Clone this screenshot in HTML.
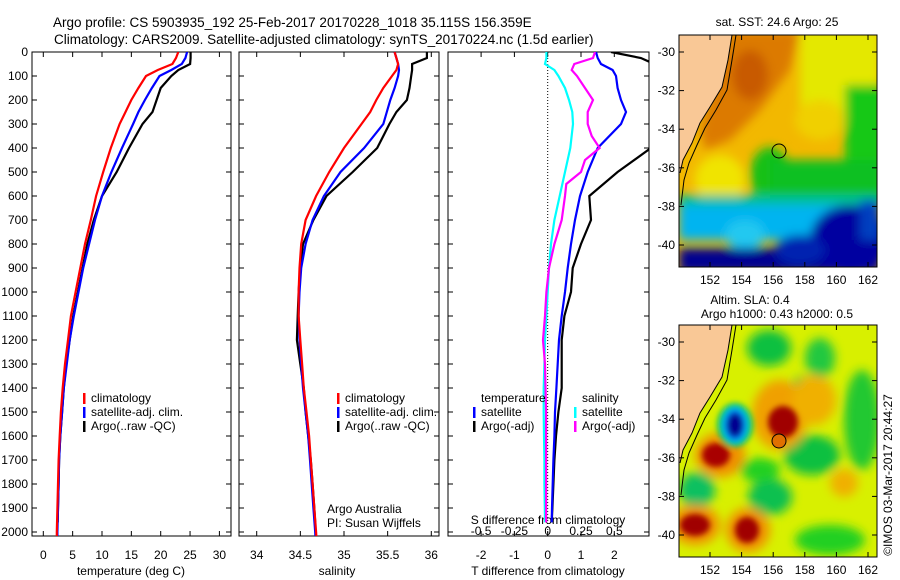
<!DOCTYPE html>
<html><head><meta charset="utf-8"><style>
html,body{margin:0;padding:0;background:#fff;}
svg{display:block;font-family:"Liberation Sans",sans-serif;}
</style></head><body>
<svg id="fig" width="900" height="580" viewBox="0 0 900 580">
<defs>
<clipPath id="c1"><rect x="32" y="52" width="199" height="484"/></clipPath>
<clipPath id="c2"><rect x="239" y="52" width="200" height="484"/></clipPath>
<clipPath id="c3"><rect x="448" y="52" width="201" height="484"/></clipPath>
<clipPath id="m1"><rect x="679" y="35" width="198" height="232"/></clipPath>
<clipPath id="m2"><rect x="679" y="325" width="198" height="232"/></clipPath>
<filter id="bl" x="-30%" y="-30%" width="160%" height="160%"><feGaussianBlur stdDeviation="5"/></filter>
<filter id="bl2" x="-30%" y="-30%" width="160%" height="160%"><feGaussianBlur stdDeviation="3"/></filter>
</defs>
<text x="53" y="27" font-size="13.5">Argo profile: CS 5903935_192 25-Feb-2017 20170228_1018 35.115S 156.359E</text>
<text x="54" y="44" font-size="13.5">Climatology: CARS2009. Satellite-adjusted climatology: synTS_20170224.nc (1.5d earlier)</text>

<g>
<text x="777" y="26" font-size="12" text-anchor="middle">sat. SST: 24.6 Argo: 25</text>
<g clip-path="url(#m1)">
<rect x="679" y="35" width="198" height="232" fill="#f2b800"/>
<g filter="url(#bl)">
<polygon points="730,30 800,30 790,70 760,110 730,140 705,150 700,130" fill="#dc7a00"/>
<ellipse cx="750" cy="75" rx="18" ry="25" fill="#c85a00"/>
<rect x="800" y="30" width="80" height="90" fill="#e4e800"/>
<ellipse cx="820" cy="120" rx="25" ry="20" fill="#f0d000"/>
<rect x="845" y="85" width="40" height="120" fill="#18c818"/>
<ellipse cx="770" cy="175" rx="20" ry="28" fill="#18c018"/>
<rect x="770" y="160" width="110" height="40" fill="#10c020"/>
<ellipse cx="720" cy="180" rx="25" ry="25" fill="#f0e400"/>
<rect x="679" y="195" width="200" height="15" fill="#00c09a"/>
<rect x="679" y="205" width="200" height="35" fill="#00b4f0"/>
<ellipse cx="745" cy="235" rx="20" ry="15" fill="#20c8f0"/>
<rect x="679" y="248" width="200" height="25" fill="#000090"/>
<ellipse cx="850" cy="240" rx="40" ry="35" fill="#0000a0"/>
<ellipse cx="800" cy="250" rx="25" ry="15" fill="#0020b0"/>
<rect x="860" y="200" width="20" height="40" fill="#0040c0"/>
</g>
<polygon points="679,35 732,35 728,60 722,87 710,107 700,123 692,143 683,160 680,173 679,175" fill="#f9c896"/>
<polyline points="736,35 732,60 727,90 716,110 705,128 697,145 689,163 684,180 681,205" fill="none" stroke="#000" stroke-width="1"/>
<polyline points="732,35 728,60 722,87 710,107 700,123 692,143 683,160 680,173" fill="none" stroke="#000" stroke-width="1"/>
<circle cx="779" cy="151" r="7" fill="none" stroke="#000" stroke-width="1"/>
</g>
<rect x="679" y="35" width="198" height="232" fill="none" stroke="#000" stroke-width="1"/>
</g>

<g>
<text x="750" y="304" font-size="12" text-anchor="middle">Altim. SLA: 0.4</text>
<text x="777" y="318" font-size="12" text-anchor="middle">Argo h1000: 0.43 h2000: 0.5</text>
<g clip-path="url(#m2)">
<rect x="679" y="325" width="198" height="232" fill="#d8f000"/>
<g filter="url(#bl)">
<ellipse cx="769" cy="348" rx="22" ry="18" fill="#10c040"/>
<ellipse cx="820" cy="358" rx="15" ry="20" fill="#20c840"/>
<ellipse cx="862" cy="420" rx="18" ry="50" fill="#20c830"/>
<ellipse cx="802" cy="388" rx="10" ry="12" fill="#10c040"/>
<ellipse cx="812" cy="455" rx="28" ry="20" fill="#10c040"/>
<ellipse cx="770" cy="497" rx="22" ry="18" fill="#10c050"/>
<ellipse cx="697" cy="490" rx="18" ry="18" fill="#10c060"/>
<ellipse cx="760" cy="470" rx="20" ry="12" fill="#20d020"/>
<ellipse cx="830" cy="540" rx="35" ry="15" fill="#20d020"/>
<ellipse cx="780" cy="415" rx="28" ry="35" fill="#f0a000"/>
<ellipse cx="814" cy="400" rx="22" ry="25" fill="#f0b000"/>
<ellipse cx="844" cy="483" rx="14" ry="14" fill="#f0b000"/>
<ellipse cx="720" cy="455" rx="25" ry="22" fill="#f09000"/>
<ellipse cx="695" cy="525" rx="25" ry="20" fill="#f09000"/>
<ellipse cx="748" cy="530" rx="22" ry="22" fill="#f09000"/>
</g>
<g filter="url(#bl2)">
<ellipse cx="783" cy="422" rx="15" ry="16" fill="#a00000"/>
<ellipse cx="716" cy="455" rx="14" ry="12" fill="#a80000"/>
<ellipse cx="695" cy="525" rx="15" ry="11" fill="#a00000"/>
<ellipse cx="747" cy="530" rx="12" ry="13" fill="#a00000"/>
<ellipse cx="735" cy="425" rx="18" ry="22" fill="#10c050"/>
<ellipse cx="735" cy="425" rx="14" ry="19" fill="#00d0e0"/>
<ellipse cx="735" cy="425" rx="11" ry="16" fill="#0070f0"/>
<ellipse cx="735" cy="425" rx="8" ry="12" fill="#000090"/>
</g>
<polygon points="679,325 732,325 728,350 722,377 710,397 700,413 692,433 683,450 680,463 679,465" fill="#f9c896"/>
<polyline points="736,325 732,350 727,380 716,400 705,418 697,435 689,453 684,470 681,495" fill="none" stroke="#000" stroke-width="1"/>
<polyline points="732,325 728,350 722,377 710,397 700,413 692,433 683,450 680,463" fill="none" stroke="#000" stroke-width="1"/>
<circle cx="779" cy="441" r="7" fill="#e07000" stroke="#000" stroke-width="1"/>
</g>
<rect x="679" y="325" width="198" height="232" fill="none" stroke="#000" stroke-width="1"/>
</g>
<text transform="translate(892,475) rotate(-90)" font-size="12" text-anchor="middle">©IMOS 03-Mar-2017 20:44:27</text>

<g id="plots"></g>
</svg>
<script>
// ---- data ----
const depths = [0,25,50,75,100,150,200,250,300,400,500,600,700,800,900,1000,1100,1200,1300,1400,1500,1600,1700,1800,1900,2000,2030];
const tempClim = [23.0,22.6,22.0,19.5,17.5,16.2,15.0,14.0,13.0,11.5,10.2,9.0,8.1,7.1,6.3,5.5,4.7,4.2,3.7,3.3,3.0,2.8,2.6,2.5,2.4,2.3,2.3];
const tempSat = [24.5,24.2,23.6,21.8,19.8,18.5,17.3,16.2,15.3,13.4,11.6,10.0,8.8,7.8,6.8,6.0,5.2,4.5,4.0,3.5,3.2,2.9,2.7,2.6,2.5,2.4,2.4];
const argoDepths = [0,25,50,75,100,150,200,250,300,400,500,600,700,800,900,1000,1100,1200,1300,1400,1500,1600,1700,1800,1900,1960];
const tempArgo = [25.1,25.1,25.0,23.0,21.8,20.0,19.3,18.6,16.9,14.6,12.5,10.0,8.6,7.5,6.7,5.9,5.1,4.5,3.9,3.5,3.2,2.9,2.7,2.6,2.5,2.45];
const salClim = [35.58,35.6,35.62,35.6,35.55,35.45,35.37,35.3,35.2,35.0,34.83,34.68,34.56,34.51,34.49,34.48,34.48,34.5,34.52,34.54,34.57,34.6,34.62,34.64,34.66,34.68,34.685];
const salSat = [35.58,35.6,35.62,35.63,35.62,35.58,35.53,35.49,35.45,35.23,34.96,34.77,34.64,34.56,34.51,34.49,34.48,34.49,34.51,34.53,34.56,34.59,34.61,34.63,34.65,34.67,34.675];
const salArgo = [35.95,35.95,35.78,35.78,35.77,35.75,35.72,35.6,35.52,35.38,35.1,34.8,34.65,34.53,34.5,34.48,34.47,34.46,34.5,34.54,34.56,34.59,34.62,34.64,34.66,34.67];
const dTsat = [1.45,1.5,1.6,1.95,2.05,2.1,2.2,2.35,2.2,1.5,1.2,0.97,0.82,0.7,0.6,0.52,0.42,0.34,0.3,0.26,0.22,0.2,0.17,0.15,0.13,0.12];
const dTargo = [1.9,2.8,3.2,3.5,3.6,3.8,3.8,3.7,3.6,3.1,2.1,1.25,1.3,1.0,0.75,0.7,0.5,0.42,0.42,0.42,0.32,0.25,0.2,0.17,0.14,0.12];
const dSsat = [-0.01,-0.01,-0.02,0.05,0.08,0.13,0.16,0.185,0.19,0.17,0.13,0.09,0.05,0.025,0.01,0,-0.01,-0.02,-0.025,-0.03,-0.03,-0.028,-0.025,-0.025,-0.022,-0.02];
const dSargoDepths = [0,25,50,75,100,150,200,250,300,350,400,450,500,550,600,700,800,900,1000,1100,1200,1300,1500,1700,1900,1960];
const dSargo = [0.355,0.34,0.2,0.18,0.22,0.28,0.34,0.3,0.3,0.33,0.39,0.28,0.25,0.14,0.13,0.105,0.05,0.01,-0.01,-0.02,-0.035,-0.02,-0.012,-0.012,-0.012,-0.012];
const depthTicks = [0,100,200,300,400,500,600,700,800,900,1000,1100,1200,1300,1400,1500,1600,1700,1800,1900,2000];
const tempTicks = [0,5,10,15,20,25,30];
const salTicks = [34,34.5,35,35.5,36];
const salTickLabels = ["34","34.5","35","35.5","36"];
const dTTicks = [-2,-1,0,1,2];
const dSTicks = [-0.5,-0.25,0,0.25,0.5];
const dSTickLabels = ["-0.5","-0.25","0","0.25","0.5"];
const latTicks = [-30,-32,-34,-36,-38,-40];
const lonTicks = [152,154,156,158,160,162];

// ---- axes ----
const TOP=52, BOT=536;
const yD = d => TOP + d*0.24;
const xT = t => 43.3 + t*5.87;
const xS = s => 256.7 + (s-34)*87.3;
const xDT = t => 547.7 + t*33.3;
const xDS = s => 547.7 + s*133.2;
const NS='http://www.w3.org/2000/svg';
const root=document.getElementById('plots');
function mk(tag,attrs,parent){const e=document.createElementNS(NS,tag);for(const k in attrs)e.setAttribute(k,attrs[k]);(parent||root).appendChild(e);return e;}
function txt(x,y,s,size,anchor,parent){const t=mk('text',{x:x,y:y,'font-size':size,'text-anchor':anchor||'start'},parent);t.textContent=s;return t;}
function stepPath(xs,ds,fx){let p='';for(let i=0;i<xs.length;i++){const x=fx(xs[i]).toFixed(1),y=yD(ds[i]).toFixed(1);p+=(i?'L':'M')+x+','+y;}return p;}

const panels=[{x0:32,x1:231},{x0:239,x1:439},{x0:448,x1:649}];
panels.forEach((p,i)=>{
  const f=mk('rect',{x:p.x0,y:TOP,width:p.x1-p.x0,height:BOT-TOP,fill:'none',stroke:'#000','stroke-width':1});
  
  
  depthTicks.forEach(d=>{mk('line',{x1:p.x0,x2:p.x0+5,y1:yD(d),y2:yD(d),stroke:'#000'});mk('line',{x1:p.x1-5,x2:p.x1,y1:yD(d),y2:yD(d),stroke:'#000'});});
});
depthTicks.forEach(d=>{const t=txt(28,yD(d)+4,String(d),12,'end');
  
  });
function xticks(vals,labels,fx,y){vals.forEach((v,i)=>{const x=fx(v);mk('line',{x1:x,x2:x,y1:TOP,y2:TOP+5,stroke:'#000'});mk('line',{x1:x,x2:x,y1:BOT-5,y2:BOT,stroke:'#000'});
  const t=txt(x,y,labels[i],12,'middle');
  
  });}
xticks(tempTicks,tempTicks.map(String),xT,559);
xticks(salTicks,salTickLabels,xS,559);
xticks(dTTicks,dTTicks.map(String),xDT,559);
dSTicks.forEach((v,i)=>{const t=txt(xDS(v),535,dSTickLabels[i],12,'middle');
  
  });
let at=txt(131,575,'temperature (deg C)',12,'middle');


at=txt(337,575,'salinity',12,'middle');


at=txt(548,575,'T difference from climatology',12,'middle');


at=txt(548,524,'S difference from climatology',12,'middle');



const zl=mk('line',{x1:xDT(0),x2:xDT(0),y1:TOP,y2:BOT,stroke:'#000','stroke-dasharray':'1,2'});



function series(xs,ds,fx,color,clip,name){
  const g=mk('g',{'clip-path':'url(#'+clip+')'});
  const pth=mk('path',{d:stepPath(xs,ds,fx),fill:'none',stroke:color,'stroke-width':2.2},g);
  
  
}
series(tempArgo,argoDepths,xT,'#000','c1','temp-argo-line');
series(tempSat,depths,xT,'#0000ff','c1','temp-satellite-line');
series(tempClim,depths,xT,'#ff0000','c1','temp-climatology-line');
series(salArgo,argoDepths,xS,'#000','c2','sal-argo-line');
series(salSat,depths,xS,'#0000ff','c2','sal-satellite-line');
series(salClim,depths,xS,'#ff0000','c2','sal-climatology-line');
series(dTargo,argoDepths,xDT,'#000','c3','tdiff-argo-line');
series(dTsat,argoDepths,xDT,'#0000ff','c3','tdiff-satellite-line');
series(dSsat,argoDepths,xDS,'#00ffff','c3','sdiff-satellite-line');
series(dSargo,dSargoDepths,xDS,'#ff00ff','c3','sdiff-argo-line');

function legend(x,y,items){items.forEach((it,i)=>{
  const m=mk('rect',{x:x,y:y+i*14-9,width:2.5,height:11,fill:it[0]});
  
  
  const t=txt(x+8,y+i*14,it[1],12);
  
  });}
legend(83,402,[['#ff0000','climatology'],['#0000ff','satellite-adj. clim.'],['#000','Argo(..raw -QC)']]);
legend(337,402,[['#ff0000','climatology'],['#0000ff','satellite-adj. clim.'],['#000','Argo(..raw -QC)']]);
let lt=txt(481,402,'temperature',12);


lt=txt(582,402,'salinity',12);


legend(473,416,[['#0000ff','satellite'],['#000','Argo(-adj)']]);
legend(574,416,[['#00ffff','satellite'],['#ff00ff','Argo(-adj)']]);
let cr=txt(327,513,'Argo Australia',12);


cr=txt(327,527,'PI: Susan Wijffels',12);



function mapAxes(yBase,top,bot,labY){
  latTicks.forEach(l=>{const y=yBase+(-30-l)*19.3;
    mk('line',{x1:679,x2:684,y1:y,y2:y,stroke:'#000'});mk('line',{x1:872,x2:877,y1:y,y2:y,stroke:'#000'});
    const t=txt(675,y+4,String(l),12,'end');
    
    });
  lonTicks.forEach(l=>{const x=710+(l-152)*15.8;
    mk('line',{x1:x,x2:x,y1:top,y2:top+5,stroke:'#000'});mk('line',{x1:x,x2:x,y1:bot-5,y2:bot,stroke:'#000'});
    const t=txt(x,labY,String(l),12,'middle');
    
    });
}
mapAxes(52,35,267,284);
mapAxes(342,325,557,574);
</script>
</body></html>
